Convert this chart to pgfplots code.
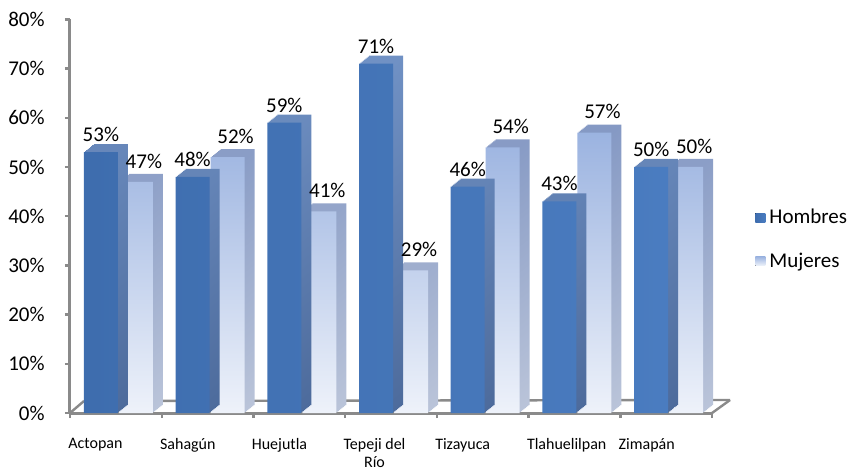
\documentclass[border=0pt]{standalone}
\usepackage{fontspec}
\setmainfont{Carlito}
\usepackage{pgfplots}
\pgfplotsset{compat=1.18}

\definecolor{axisgray}{HTML}{8A8A8A}
\definecolor{hleft}{HTML}{3E6DAE}
\definecolor{hmid}{HTML}{5C8FD3}
\definecolor{hright}{HTML}{4A7CC0}
\definecolor{hdtop}{HTML}{7091C4}
\definecolor{hdbot}{HTML}{4D6B9C}
\definecolor{mtop}{HTML}{9BB3E0}
\definecolor{mbot}{HTML}{EEF2FA}
\definecolor{mdtop}{HTML}{8599C4}
\definecolor{mdbot}{HTML}{BAC4D9}

% Hombres / Mujeres, percent
\pgfplotstableread{
x val
0 53
1 48
2 59
3 71
4 46
5 43
6 50
}\hombres
\pgfplotstableread{
x val
0 47
1 52
2 41
3 29
4 54
5 57
6 50
}\mujeres

\begin{document}
\begin{tikzpicture}
\begin{axis}[
  x=45.86pt, y=2.46pt,
  xmin=-0.5, xmax=6.5, ymin=0, ymax=80,
  axis lines*=left,
  axis line style={draw=axisgray, line width=1.5pt},
  tick style={draw=axisgray, line width=1.2pt},
  major tick length=2.5pt,
  tick align=outside,
  xtick={-0.5,0.5,...,6.5},
  xticklabels={Actopan,Sahagún,Huejutla,Tepeji del\\Río,Tizayuca,Tlahuelilpan,Zimapán},
  xticklabel style={anchor=north west, inner sep=0pt, xshift=-1pt, yshift=-10pt,
    align=center, font=\fontsize{8}{8.8}\selectfont},
  ytick={0,10,...,80},
  yticklabels={0\%,10\%,20\%,30\%,40\%,50\%,60\%,70\%,80\%},
  yticklabel style={inner sep=0pt, xshift=-10pt, font=\fontsize{10.5}{12}\selectfont},
  /pgf/number format/assume math mode=true,
  clip=false,
  reverse legend,
  legend style={draw=none, fill=none, at={(1.067,0.44)}, anchor=west,
    font=\fontsize{10.5}{12}\selectfont, row sep=9pt, inner sep=0pt},
  legend cell align=left,
  legend image code/.code={\fill[#1] (0pt,-2pt) rectangle (5pt,2.5pt);},
]
% floor
\coordinate (O) at (rel axis cs:0,0);
\draw[axisgray, line width=1.2pt] (rel axis cs:0,0) -- ++(7pt,6pt) coordinate (B0);
\draw[axisgray, line width=1.2pt] (rel axis cs:1,0) -- ++(9pt,6.5pt) coordinate (B1);
\draw[axisgray, line width=1.2pt] (B0) -- (B1);

% Mujeres: depth, then front
\pgfplotsinvokeforeach{8,7,...,1}{
  \addplot[ybar, bar width=17pt, bar shift=10pt, draw=none,
    xshift=#1*0.625pt, yshift=#1*0.5pt,
    top color=mdtop, bottom color=mdbot, forget plot] table[x=x, y=val] {\mujeres};
}
\addplot[ybar, bar width=17pt, bar shift=10pt, draw=none,
  top color=mtop, bottom color=mbot,
  nodes near coords={\pgfmathprintnumber{\pgfplotspointmeta}\%},
  nodes near coords style={anchor=south, inner sep=0pt, xshift=14pt, yshift=6.5pt,
    font=\fontsize{10.5}{12}\selectfont, text=black}]
  table[x=x, y=val] {\mujeres};
\addlegendentry{Mujeres}

% Hombres: depth, then front
\pgfplotsinvokeforeach{8,7,...,1}{
  \addplot[ybar, bar width=17pt, bar shift=-7.5pt, draw=none,
    xshift=#1*0.625pt, yshift=#1*0.5pt,
    top color=hdtop, bottom color=hdbot, forget plot] table[x=x, y=val] {\hombres};
}
\addplot[ybar, bar width=17pt, bar shift=-7.5pt, draw=none,
  left color=hleft, middle color=hmid, right color=hright,
  nodes near coords={\pgfmathprintnumber{\pgfplotspointmeta}\%},
  nodes near coords style={anchor=south, inner sep=0pt, xshift=-7.5pt, yshift=5pt,
    font=\fontsize{10.5}{12}\selectfont, text=black}]
  table[x=x, y=val] {\hombres};
\addlegendentry{Hombres}
\end{axis}
\pgfresetboundingbox
\path[use as bounding box] ([shift={(-35pt,-29pt)}]O) rectangle ++(427.5pt,235.5pt);
\end{tikzpicture}
\end{document}
